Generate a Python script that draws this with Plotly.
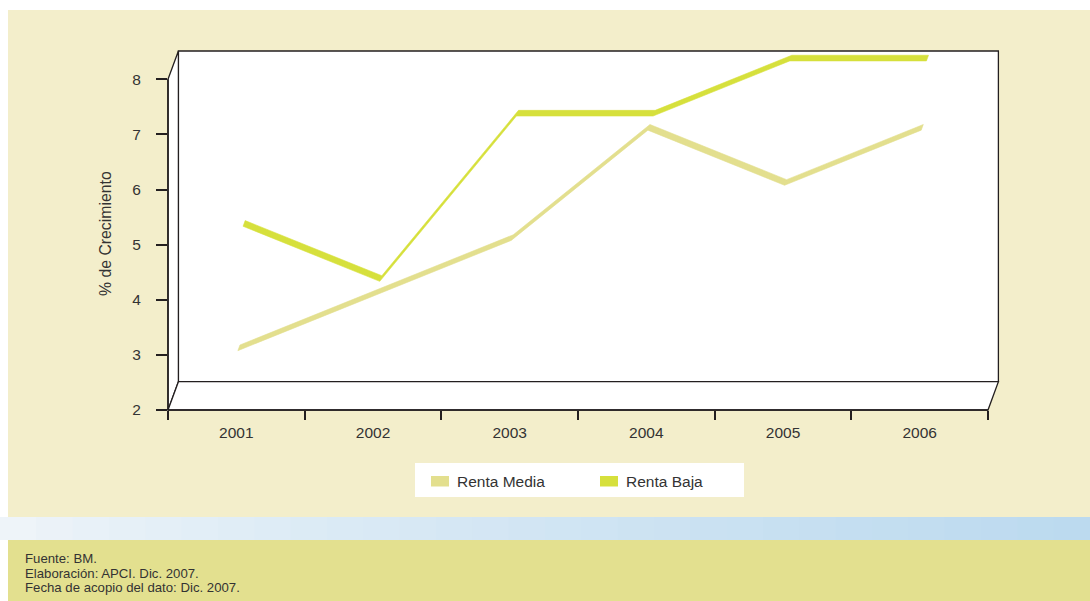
import plotly.graph_objects as go

# ---- data -------------------------------------------------------------
years = ["2001", "2002", "2003", "2004", "2005", "2006"]
renta_media = [3, 4, 5, 7, 6, 7]
renta_baja = [5, 4, 7, 7, 8, 8]
y_ticks = [2, 3, 4, 5, 6, 7, 8]

series_names = ["Renta Media", "Renta Baja"]
series_colors = ["#E3DF8E", "#D6E03C"]
# depth slot (front, back) of each ribbon, as a fraction of the box depth
series_depth = [(0.15, 0.35), (0.65, 0.85)]

footer_lines = [
    "Fuente: BM.",
    "Elaboración: APCI. Dic. 2007.",
    "Fecha de acopio del dato: Dic. 2007.",
]

# ---- page geometry (pixels) -------------------------------------------
W, H = 1090, 601
FRONT_L, FRONT_R = 168.0, 988.0
FRONT_T, FRONT_B = 79.3, 410.0
DEPTH_X, DEPTH_Y = 10.4, 28.3          # offset of the back wall
INK = "#231F20"
TEXT = "#333333"
FONT = "Liberation Sans, Arial, sans-serif"

Y_MIN, Y_MAX = 2, 8
n_cat = len(years)
px_per_cat = (FRONT_R - FRONT_L) / n_cat
px_per_val = (FRONT_B - FRONT_T) / (Y_MAX - Y_MIN)
dx = DEPTH_X / px_per_cat              # depth offset in category units
dy = DEPTH_Y / px_per_val              # depth offset in value units


def px(x, y):
    """pixel position -> paper coordinates"""
    return x / W, 1 - y / H


def path(points):
    parts = []
    for i, (x, y) in enumerate(points):
        u, v = px(x, y)
        parts.append(("M" if i == 0 else "L") + f"{u:.5f},{v:.5f}")
    return " ".join(parts) + " Z"


fig = go.Figure()

# ---- 3-D ribbons ------------------------------------------------------
for name, vals, color, (a, b) in reversed(
        list(zip(series_names, [renta_media, renta_baja], series_colors, series_depth))):
    idx = list(range(n_cat))
    xs = [i + a * dx for i in idx] + [i + b * dx for i in reversed(idx)]
    ys = [v + a * dy for v in vals] + [vals[i] + b * dy for i in reversed(idx)]
    fig.add_trace(go.Scatter(
        x=xs + [xs[0]], y=ys + [ys[0]], mode="lines", fill="toself",
        fillcolor=color, line=dict(color=color, width=0.6),
        name=name, showlegend=False, hoverinfo="skip"))

shapes = []

# page background bands
shapes.append(dict(type="rect", xref="paper", yref="paper", layer="below",
                   x0=px(8, 0)[0], x1=1.0, y0=px(0, 10)[1], y1=px(0, 517)[1],
                   fillcolor="#F3EECB", line=dict(width=0)))
n_slices = 30
for k in range(n_slices):
    t = k / (n_slices - 1)
    c0, c1 = (238, 244, 249), (188, 218, 239)
    r, g, bl = (round(c0[j] + (c1[j] - c0[j]) * t ** 0.8) for j in range(3))
    shapes.append(dict(type="rect", xref="paper", yref="paper", layer="below",
                       x0=k / n_slices, x1=min(1.0, (k + 1) / n_slices + 0.002),
                       y0=px(0, 540)[1], y1=px(0, 517)[1],
                       fillcolor=f"rgb({r},{g},{bl})", line=dict(width=0)))
shapes.append(dict(type="rect", xref="paper", yref="paper", layer="below",
                   x0=px(8, 0)[0], x1=1.0, y0=0, y1=px(0, 540)[1],
                   fillcolor="#E3E08F", line=dict(width=0)))

# box walls: back wall, left wall, floor
BL, BR = FRONT_L + DEPTH_X, FRONT_R + DEPTH_X
BT, BB = FRONT_T - DEPTH_Y, FRONT_B - DEPTH_Y
wall_line = dict(color=INK, width=1.3)
shapes.append(dict(type="path", xref="paper", yref="paper", layer="below",
                   path=path([(BL, BT), (BR, BT), (BR, BB), (BL, BB)]),
                   fillcolor="white", line=wall_line))
shapes.append(dict(type="path", xref="paper", yref="paper", layer="below",
                   path=path([(FRONT_L, FRONT_T), (BL, BT), (BL, BB), (FRONT_L, FRONT_B)]),
                   fillcolor="white", line=wall_line))
shapes.append(dict(type="path", xref="paper", yref="paper", layer="below",
                   path=path([(FRONT_L, FRONT_B), (FRONT_R, FRONT_B), (BR, BB), (BL, BB)]),
                   fillcolor="white", line=wall_line))
# front edges (value axis and category axis)
shapes.append(dict(type="line", xref="paper", yref="paper", layer="above",
                   x0=px(FRONT_L, 0)[0], x1=px(FRONT_L, 0)[0],
                   y0=px(0, FRONT_T)[1], y1=px(0, FRONT_B)[1],
                   line=dict(color=INK, width=1.6)))
shapes.append(dict(type="line", xref="paper", yref="paper", layer="above",
                   x0=px(FRONT_L, 0)[0], x1=px(FRONT_R, 0)[0],
                   y0=px(0, FRONT_B)[1], y1=px(0, FRONT_B)[1],
                   line=dict(color=INK, width=1.6)))

# legend box and swatches
shapes.append(dict(type="rect", xref="paper", yref="paper",
                   x0=px(415, 0)[0], x1=px(744, 0)[0],
                   y0=px(0, 497)[1], y1=px(0, 463)[1],
                   fillcolor="white", line=dict(width=0)))
annotations = []
for name, color, sx in zip(series_names, series_colors, [431, 600]):
    shapes.append(dict(type="rect", xref="paper", yref="paper",
                       x0=px(sx, 0)[0], x1=px(sx + 18, 0)[0],
                       y0=px(0, 486.5)[1], y1=px(0, 476)[1],
                       fillcolor=color, line=dict(width=0)))
    annotations.append(dict(xref="paper", yref="paper", x=px(sx + 24, 0)[0],
                            y=px(0, 481)[1], text=name, showarrow=False,
                            xanchor="left", yanchor="middle",
                            font=dict(family=FONT, size=15.5, color=TEXT)))

# source notes
for line, yy in zip(footer_lines, [558.5, 573, 587.5]):
    annotations.append(dict(xref="paper", yref="paper", x=px(23, 0)[0],
                            y=px(0, yy)[1], text=line, showarrow=False,
                            xanchor="left", yanchor="middle",
                            font=dict(family=FONT, size=13.2, color=TEXT)))

# value-axis title
annotations.append(dict(xref="paper", yref="paper", x=px(105, 0)[0],
                        y=px(0, 234)[1], text="% de Crecimiento", textangle=-90,
                        showarrow=False, xanchor="center", yanchor="middle",
                        font=dict(family=FONT, size=15.8, color=TEXT)))

fig.update_layout(
    width=W, height=H,
    margin=dict(l=0, r=0, t=0, b=0, pad=0),
    paper_bgcolor="white",
    plot_bgcolor="rgba(0,0,0,0)",
    showlegend=False,
    shapes=shapes,
    annotations=annotations,
    xaxis=dict(
        domain=[FRONT_L / W, BR / W],
        range=[-0.5, n_cat - 0.5 + dx],
        tickmode="array", tickvals=list(range(n_cat)), ticktext=years,
        ticks="", showgrid=False, zeroline=False, showline=False,
        automargin=False,
        ticklabelstandoff=11,
        tickfont=dict(family=FONT, size=15.5, color=TEXT),
        minor=dict(tickmode="array",
                   tickvals=[i - 0.5 for i in range(n_cat + 1)],
                   ticks="outside", ticklen=9, tickwidth=1.6, tickcolor=INK,
                   showgrid=False),
        fixedrange=True,
    ),
    yaxis=dict(
        domain=[1 - FRONT_B / H, 1 - BT / H],
        range=[Y_MIN, Y_MAX + dy],
        tickmode="array", tickvals=y_ticks,
        ticks="outside", ticklen=11, tickwidth=1.6, tickcolor=INK,
        ticklabelstandoff=12,
        automargin=False,
        showgrid=False, zeroline=False, showline=False,
        tickfont=dict(family=FONT, size=15.5, color=TEXT),
        fixedrange=True,
    ),
)

fig.write_html("out.html")
